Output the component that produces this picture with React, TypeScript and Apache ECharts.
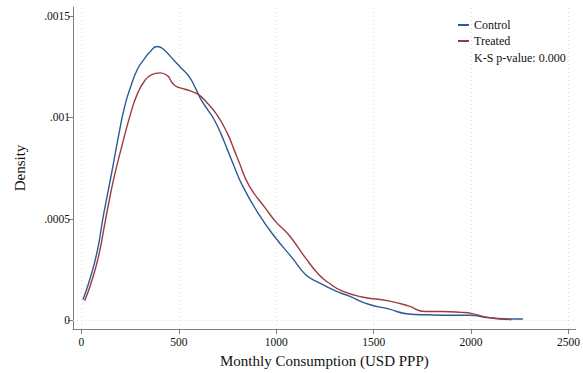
import React, { useEffect, useRef } from "react";
import * as echarts from "echarts";

const controlX = [8, 51, 85, 110, 136, 162, 187, 221, 256, 289, 324, 349, 388, 417, 477, 511, 554, 588, 613, 647, 681, 716, 750, 775, 826, 912, 997, 1082, 1150, 1218, 1304, 1372, 1474, 1576, 1678, 1781, 1917, 2002, 2070, 2190, 2266];
const controlY = [0.0001, 0.000225, 0.000356, 0.0005, 0.00063, 0.00076, 0.00089, 0.00105, 0.00116, 0.00124, 0.00129, 0.00132, 0.00135, 0.00134, 0.00128, 0.001245, 0.0012, 0.00114, 0.00109, 0.00104, 0.00099, 0.00092, 0.00084, 0.00078, 0.000665, 0.00052, 0.000405, 0.000307, 0.000225, 0.000185, 0.000144, 0.000119, 0.000078, 0.000055, 0.00003, 0.000026, 0.000024, 0.000024, 0.000014, 0.000006, 0.000005];

const treatedX = [17, 59, 94, 119, 145, 170, 204, 256, 289, 324, 358, 405, 443, 460, 477, 494, 511, 562, 605, 647, 698, 750, 784, 809, 860, 946, 997, 1065, 1150, 1218, 1269, 1337, 1440, 1576, 1678, 1764, 1849, 1951, 2002, 2087, 2207];
const treatedY = [0.000095, 0.00021, 0.00034, 0.00047, 0.0006, 0.000714, 0.000845, 0.00103, 0.00112, 0.00118, 0.00121, 0.00122, 0.001205, 0.00118, 0.00116, 0.00115, 0.001145, 0.00113, 0.00111, 0.00107, 0.00101, 0.00092, 0.00084, 0.00078, 0.000665, 0.00055, 0.000486, 0.00042, 0.000307, 0.000225, 0.000184, 0.000144, 0.000114, 0.000095, 0.00007, 0.000042, 0.000042, 0.000038, 0.000033, 0.000013, 0.000002];

const xTicks = [0, 500, 1000, 1500, 2000, 2500];
const xTickLabels = ["0", "500", "1000", "1500", "2000", "2500"];
const yTicks = [0, 0.0005, 0.001, 0.0015];
const yTickLabels = ["0", ".0005", ".001", ".0015"];

const seriesNames = ["Control", "Treated"];
const ksText = "K-S p-value: 0.000";
const xTitle = "Monthly Consumption (USD PPP)";
const yTitle = "Density";

const FONT = "Liberation Serif";

function nearestLabel(v: number, ticks: number[], labels: string[]) {
  let best = 0;
  ticks.forEach((t, i) => {
    if (Math.abs(t - v) < Math.abs(ticks[best] - v)) best = i;
  });
  return labels[best];
}

export default function App() {
  const ref = useRef<HTMLDivElement>(null);
  useEffect(() => {
    if (!ref.current) return;
    const chart = echarts.init(ref.current, undefined, { renderer: "svg" });
    const gridStyle = { color: "#dcdcdc", width: 1, type: [1, 3] as any };
    const axisColor = "#7f7f7f";
    const option: any = {
      animation: false,
      backgroundColor: "#ffffff",
      textStyle: { fontFamily: FONT },
      grid: { left: 73, top: 7, right: 5, bottom: 41, containLabel: false },
      xAxis: {
        type: "value",
        min: -43,
        max: 2537,
        name: xTitle,
        nameLocation: "middle",
        nameGap: 24,
        nameTextStyle: { fontFamily: FONT, fontSize: 15, color: "#111" },
        axisLine: { show: true, onZero: false, lineStyle: { color: axisColor, width: 1 } },
        axisTick: { show: true, customValues: xTicks, length: 5, lineStyle: { color: axisColor } },
        axisLabel: {
          customValues: xTicks,
          fontFamily: FONT,
          fontSize: 11.5,
          color: "#111",
          margin: 7,
          formatter: (v: number) => nearestLabel(v, xTicks, xTickLabels),
        },
        splitLine: { show: false },
      },
      yAxis: {
        type: "value",
        min: -0.000044,
        max: 0.001545,
        name: yTitle,
        nameLocation: "middle",
        nameGap: 46,
        nameRotate: 90,
        nameTextStyle: { fontFamily: FONT, fontSize: 15, color: "#111" },
        axisLine: { show: true, onZero: false, lineStyle: { color: axisColor, width: 1 } },
        axisTick: { show: true, customValues: yTicks, length: 5, lineStyle: { color: axisColor } },
        axisLabel: {
          customValues: yTicks,
          fontFamily: FONT,
          fontSize: 11.5,
          color: "#111",
          margin: 3,
          formatter: (v: number) => nearestLabel(v, yTicks, yTickLabels),
        },
        splitLine: { show: false },
      },
      legend: {
        orient: "vertical",
        left: 458,
        top: 19,
        padding: 0,
        itemWidth: 11,
        itemHeight: 2,
        itemGap: 4,
        textStyle: { fontFamily: FONT, fontSize: 12, color: "#111" },
        data: seriesNames.map((n) => ({ name: n, icon: "rect" })),
      },
      graphic: [
        {
          type: "text",
          left: 474,
          top: 52,
          style: { text: ksText, fontFamily: FONT, fontSize: 12, fill: "#111" },
        },
      ],
      series: [
        {
          type: "line",
          name: "grid",
          data: [],
          z: 1,
          silent: true,
          markLine: {
            silent: true,
            symbol: "none",
            label: { show: false },
            lineStyle: gridStyle,
            data: [
              ...xTicks.map((t) => ({ xAxis: t })),
              ...yTicks.map((t) => ({ yAxis: t })),
            ],
          },
        },
        {
          type: "line",
          name: seriesNames[0],
          data: controlX.map((x, i) => [x, controlY[i]]),
          showSymbol: false,
          smooth: 0.5,
          z: 3,
          color: "#2c5b94",
          lineStyle: { color: "#2c5b94", width: 1.4 },
        },
        {
          type: "line",
          name: seriesNames[1],
          data: treatedX.map((x, i) => [x, treatedY[i]]),
          showSymbol: false,
          smooth: 0.5,
          z: 3,
          color: "#9e3a3f",
          lineStyle: { color: "#9e3a3f", width: 1.4 },
        },
      ],
    };
    chart.setOption(option);
    return () => chart.dispose();
  }, []);
  return (
    <div
      ref={ref}
      style={{ position: "fixed", left: 0, top: 0, width: 583, height: 373, background: "#fff" }}
    />
  );
}
